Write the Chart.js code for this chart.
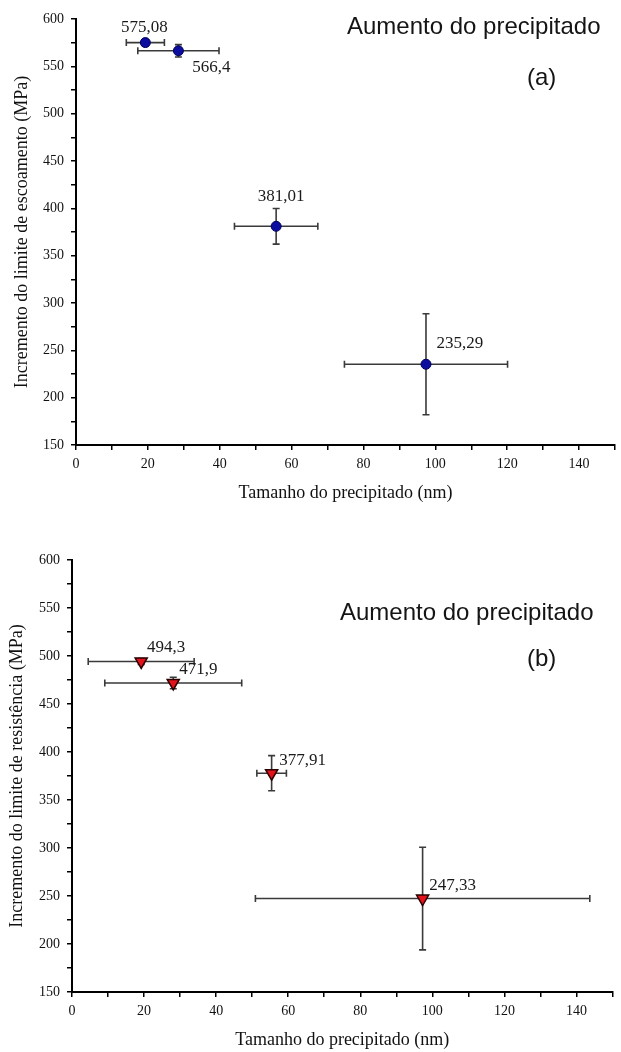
<!DOCTYPE html>
<html>
<head>
<meta charset="utf-8">
<title>Tamanho do precipitado</title>
<script src="https://cdn.jsdelivr.net/npm/chart.js@4/dist/chart.umd.min.js"></script>
<style>
  html, body { margin: 0; padding: 0; background: #fff; }
  .box { position: absolute; left: 0; width: 621px; }
  #boxA { top: 0; height: 520px; }
  #boxB { top: 520px; height: 532px; }
</style>
</head>
<body>
<div class="box" id="boxA"><canvas id="chartA" width="621" height="520"></canvas></div>
<div class="box" id="boxB"><canvas id="chartB" width="621" height="532"></canvas></div>
<script>
// tamanho médio do precipitado (nm), igual nos dois gráficos
const sizesA = [19.3, 28.5, 55.7, 97.4];
const sizesB = [19.2, 28.1, 55.4, 97.3];

// (a) incremento do limite de escoamento (MPa)
const yieldInc = [575.08, 566.4, 381.01, 235.29];
const yieldSizeErr = [5.3, 11.3, 11.6, 22.7];
const yieldErr = [3, 6.5, 18.8, 53.4];

// (b) incremento do limite de resistência (MPa)
const tensileInc = [494.3, 471.9, 377.91, 247.33];
const tensileSizeErr = [14.7, 19, 4.1, 46.4];
const tensileErr = [3, 6, 18.3, 53.5];

// eixos
const xTicksLabeled = [0, 20, 40, 60, 80, 100, 120, 140];
const yTicksLabeled = [150, 200, 250, 300, 350, 400, 450, 500, 550, 600];

const serif = '"Liberation Serif", "Times New Roman", serif';
const sans = '"Liberation Sans", Arial, sans-serif';

function toPoints(xs, ys) {
    return xs.map((x, i) => ({ x: x, y: ys[i] }));
}

// -------------------------------
// barras de erro (x e y) desenhadas antes dos pontos
// -------------------------------
const errorBars = {
    id: "errorBars",
    beforeDatasetsDraw(chart, args, opts) {
        const ctx = chart.ctx;
        const xs = chart.scales.x;
        const ys = chart.scales.y;
        const pts = chart.data.datasets[0].data;
        const cap = 3.5;
        ctx.save();
        ctx.strokeStyle = "#3a3a3a";
        ctx.lineWidth = 1.6;
        pts.forEach((p, i) => {
            const px = xs.getPixelForValue(p.x);
            const py = ys.getPixelForValue(p.y);
            const x0 = xs.getPixelForValue(p.x - opts.xErr[i]);
            const x1 = xs.getPixelForValue(p.x + opts.xErr[i]);
            const y0 = ys.getPixelForValue(p.y - opts.yErr[i]);
            const y1 = ys.getPixelForValue(p.y + opts.yErr[i]);
            ctx.beginPath();
            ctx.moveTo(x0, py); ctx.lineTo(x1, py);
            ctx.moveTo(x0, py - cap); ctx.lineTo(x0, py + cap);
            ctx.moveTo(x1, py - cap); ctx.lineTo(x1, py + cap);
            ctx.moveTo(px, y0); ctx.lineTo(px, y1);
            ctx.moveTo(px - cap, y0); ctx.lineTo(px + cap, y0);
            ctx.moveTo(px - cap, y1); ctx.lineTo(px + cap, y1);
            ctx.stroke();
        });
        ctx.restore();
    }
};

// -------------------------------
// rótulos com o valor de cada ponto + anotação do canto
// -------------------------------
const valueLabels = {
    id: "valueLabels",
    afterDatasetsDraw(chart, args, opts) {
        const ctx = chart.ctx;
        const meta = chart.getDatasetMeta(0);
        const pts = chart.data.datasets[0].data;
        ctx.save();
        ctx.font = "17px " + serif;
        ctx.fillStyle = "#1a1a1a";
        ctx.textAlign = "center";
        ctx.textBaseline = "middle";
        meta.data.forEach((el, i) => {
            const off = opts.offsets[i];
            ctx.fillText(String(pts[i].y).replace(".", ","), el.x + off[0], el.y + off[1]);
        });

        ctx.font = "24px " + sans;
        ctx.fillStyle = "#141414";
        ctx.textAlign = "left";
        ctx.fillText("Aumento do precipitado", opts.note[0], opts.note[1]);
        ctx.fillText(opts.tag, opts.tagPos[0], opts.tagPos[1]);
        ctx.restore();
    }
};

function makeChart(id, cfg) {
    return new Chart(document.getElementById(id), {
        type: "scatter",
        data: {
            datasets: [{
                data: cfg.points,
                pointStyle: cfg.pointStyle,
                rotation: cfg.rotation,
                pointRadius: cfg.radius,
                backgroundColor: cfg.fill,
                borderColor: cfg.stroke,
                borderWidth: cfg.strokeWidth
            }]
        },
        plugins: [errorBars, valueLabels],
        options: {
            responsive: false,
            animation: false,
            layout: { padding: cfg.padding },
            plugins: {
                legend: { display: false },
                tooltip: { enabled: false },
                errorBars: { xErr: cfg.xErr, yErr: cfg.yErr },
                valueLabels: { offsets: cfg.offsets, note: cfg.note, tag: cfg.tag, tagPos: cfg.tagPos }
            },
            scales: {
                x: {
                    type: "linear",
                    min: 0,
                    max: 150,
                    afterFit: s => { s.height = cfg.xHeight; },
                    border: { display: true, color: "#000", width: 2 },
                    grid: { drawOnChartArea: false, drawTicks: true, tickLength: 5, color: "#000", lineWidth: 1.5 },
                    ticks: {
                        stepSize: 10,
                        autoSkip: false,
                        maxRotation: 0,
                        padding: 6,
                        color: "#111",
                        font: { family: serif, size: 14 },
                        callback: v => xTicksLabeled.includes(v) ? v : ""
                    },
                    title: {
                        display: true,
                        text: "Tamanho do precipitado (nm)",
                        color: "#111",
                        font: { family: serif, size: 18 },
                        padding: { top: 0, bottom: cfg.xTitlePad }
                    }
                },
                y: {
                    type: "linear",
                    min: 150,
                    max: 600,
                    afterFit: s => { s.width = cfg.yWidth; },
                    border: { display: true, color: "#000", width: 2 },
                    grid: { drawOnChartArea: false, drawTicks: true, tickLength: 5, color: "#000", lineWidth: 1.5 },
                    ticks: {
                        stepSize: 25,
                        autoSkip: false,
                        padding: 7,
                        color: "#111",
                        font: { family: serif, size: 14 },
                        callback: v => yTicksLabeled.includes(v) ? v : ""
                    },
                    title: {
                        display: true,
                        text: cfg.yTitle,
                        color: "#111",
                        font: { family: serif, size: 18 },
                        padding: { top: cfg.yTitlePad, bottom: 0 }
                    }
                }
            }
        }
    });
}

// (a) escoamento
makeChart("chartA", {
    points: toPoints(sizesA, yieldInc),
    xErr: yieldSizeErr,
    yErr: yieldErr,
    pointStyle: "circle",
    rotation: 0,
    radius: 5,
    fill: "#0c0c9e",
    stroke: "#00005c",
    strokeWidth: 1,
    offsets: [[-1, -15], [33, 17], [5, -30], [34, -21]],
    note: [347, 27],
    tag: "(a)",
    tagPos: [527, 78],
    padding: { top: 19, right: 2, left: 0, bottom: 0 },
    yWidth: 76,
    xHeight: 75,
    xTitlePad: 16,
    yTitlePad: 11,
    yTitle: "Incremento do limite de escoamento (MPa)"
});

// (b) resistência
makeChart("chartB", {
    points: toPoints(sizesB, tensileInc),
    xErr: tensileSizeErr,
    yErr: tensileErr,
    pointStyle: "triangle",
    rotation: 180,
    radius: 7,
    fill: "#e3121b",
    stroke: "#2a0000",
    strokeWidth: 1.5,
    offsets: [[25, -14], [25, -13], [31, -13], [30, -13]],
    note: [340, 93],
    tag: "(b)",
    tagPos: [527, 139],
    padding: { top: 40, right: 3, left: 0, bottom: 0 },
    yWidth: 72,
    xHeight: 60,
    xTitlePad: 1,
    yTitlePad: 6,
    yTitle: "Incremento do limite de resistência (MPa)"
});
</script>
</body>
</html>
